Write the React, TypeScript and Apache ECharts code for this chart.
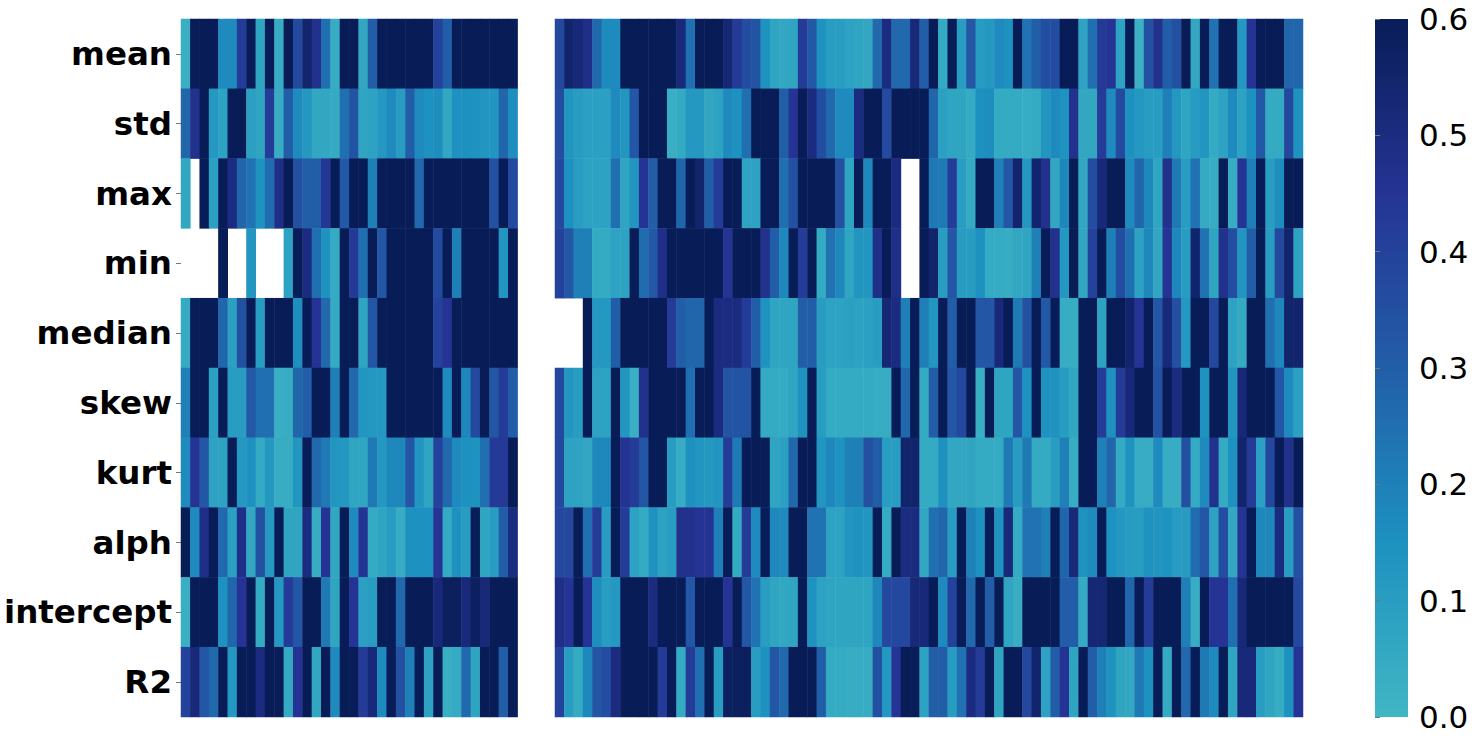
import React, { useEffect, useRef } from "react";
import * as echarts from "echarts";

const rowNames = ["mean", "std", "max", "min", "median", "skew", "kurt", "alph", "intercept", "R2"];
const colorStops = ["#41b6c4", "#1d91c0", "#225ea8", "#253494", "#081d58"];
const barTicks = [0, 0.1, 0.2, 0.3, 0.4, 0.5, 0.6];
const gapColumns = [null, null, null, null];
const _ = null;

const meanL = [.03,.6,.6,.6,.17,.17,.42,.6,.07,.6, .04,.6,.37,.55,.47,.25,.04,.6,.6,.06, .3,.6,.6,.6,.6,.6,.6,.4,.3,.6, .6,.6,.6,.6,.6,.6];
const meanR = [.38,.55,.52,.48,.27,.17,.17,.6,.6,.6, .6,.6,.6,.52,.25,.6,.6,.6,.53,.43, .36,.34,.14,.07,.06,.07,.42,.32,.14,.1, .1,.08,.07,.06,.27,.5,.27,.27,.52,.3, .6,.05,.6,.1,.33,.11,.12,.17,.15,.6, .24,.3,.36,.36,.6,.6,.08,.25,.43,.45, .08,.6,.02,.35,.47,.3,.35,.6,.06,.6, .24,.6,.6,.12,.45,.6,.6,.6,.28,.28];
const stdL = [.28,.47,.6,.12,.08,.6,.6,.09,.07,.42, .04,.3,.17,.12,.06,.06,.05,.25,.34,.07, .08,.12,.17,.1,.3,.17,.15,.16,.06,.15, .15,.14,.13,.13,.28,.16];
const stdR = [.36,.13,.1,.09,.09,.09,.17,.13,.33,.6, .6,.6,.03,.05,.12,.12,.06,.08,.17,.15, .25,.6,.6,.6,.3,.45,.6,.5,.36,.27, .17,.17,.5,.6,.6,.37,.6,.6,.6,.6, .28,.09,.07,.07,.05,.15,.16,.05,.05,.05, .04,.05,.13,.17,.14,.47,.06,.06,.42,.17, .37,.15,.12,.1,.1,.2,.12,.07,.11,.13, .05,.08,.17,.08,.15,.32,.05,.05,.38,.14];
const maxL = [.06,_,.6,.09,.6,.5,.28,.24,.14,.26, .48,.6,.35,.3,.3,.44,.6,.32,.6,.6, .2,.6,.6,.6,.6,.27,.6,.6,.6,.6, .6,.6,.6,.35,.6,.37];
const maxR = [.38,.15,.1,.08,.08,.08,.25,.07,.13,.45, .3,.6,.6,.28,.6,.55,.3,.42,.6,.6, .08,.08,.6,.6,.25,.35,.6,.6,.6,.6, .35,.07,.6,.18,.6,.6,.5,_,_,.6, .22,.22,.42,.1,.05,.6,.6,.2,.33,.55, .12,.55,.47,.06,.18,.6,.06,.36,.52,.6, .6,.17,.28,.18,.07,.47,.22,.1,.24,.05, .04,.6,.04,.45,.2,.6,.1,.16,.6,.6];
const minL = [_,_,_,_,.6,_,_,.13,_,_, _,.08,.6,.5,.25,.14,.05,.6,.43,.25, .6,.33,.6,.6,.6,.6,.6,.37,.6,.2, .6,.6,.6,.6,.13,.6];
const minR = [.4,.33,.2,.2,.05,.05,.08,.08,.6,.26, .32,.48,.6,.6,.6,.6,.6,.6,.45,.6, .6,.6,.47,.3,.18,.6,.42,.6,.05,.24, .18,.07,.13,.13,.48,.6,.48,_,_,.6, .55,.1,.33,.1,.1,.15,.05,.05,.04,.06, .07,.2,.6,.47,.12,.6,.06,.4,.6,.2, .36,.25,.08,.18,.06,.45,.18,.1,.55,.24, .07,.47,.36,.13,.3,.6,.1,.38,.55,.08];
const medianL = [.05,.6,.6,.6,.28,.09,.35,.6,.1,.6, .6,.6,.16,.6,.45,.27,.05,.6,.6,.07, .33,.6,.6,.6,.6,.6,.6,.4,.45,.6, .6,.6,.6,.6,.6,.6];
const medianR = [_,_,_,.6,.12,.12,.3,.6,.6,.6, .6,.6,.42,.3,.28,.28,.6,.5,.5,.5, .42,.3,.14,.07,.07,.07,.3,.3,.1,.08, .08,.09,.08,.09,.1,.53,.5,.2,.6,.2, .13,.6,.3,.6,.6,.33,.33,.52,.6,.22, .35,.6,.32,.6,.04,.04,.6,.6,.08,.6, .6,.55,.45,.6,.33,.52,.35,.12,.6,.6, .38,.6,.08,.05,.6,.6,.25,.18,.55,.55];
const skewL = [.2,.6,.6,.09,.6,.1,.1,.32,.25,.25, .03,.04,.28,.3,.6,.6,.2,.6,.27,.13, .12,.12,.6,.6,.6,.6,.6,.6,.17,.6, .18,.38,.6,.33,.42,.3];
const skewR = [.38,.13,.1,.6,.08,.08,.6,.13,.03,.47, .6,.6,.6,.6,.25,.6,.6,.5,.34,.34, .34,.6,.05,.05,.05,.07,.14,.6,.1,.05, .05,.05,.05,.05,.04,.04,.6,.27,.6,.05, .3,.6,.33,.38,.6,.03,.6,.07,.07,.33, .15,.6,.14,.14,.1,.06,.6,.6,.42,.15, .42,.52,.6,.6,.35,.6,.5,.6,.6,.14, .6,.6,.13,.52,.6,.6,.6,.33,.17,.09];
const kurtL = [.17,.45,.33,.08,.08,.6,.12,.15,.05,.12, .04,.04,.13,.6,.27,.22,.13,.12,.07,.07, .22,.12,.18,.18,.33,.13,.07,.4,.27,.17, .15,.14,.25,.43,.43,.6];
const kurtR = [.38,.08,.08,.06,.18,.18,.6,.45,.42,.33, .6,.6,.1,.04,.15,.13,.12,.13,.42,.22, .6,.6,.6,.07,.09,.27,.6,.6,.13,.18, .14,.2,.2,.35,.3,.1,.1,.55,.55,.05, .05,.15,.06,.06,.07,.05,.05,.05,.22,.1, .22,.05,.05,.1,.2,.04,.6,.6,.2,.28, .05,.14,.04,.04,.17,.04,.04,.35,.05,.17, .47,.05,.15,.55,.42,.09,.38,.6,.47,.6];
const alphL = [.6,.17,.48,.6,.27,.09,.48,.06,.35,.12, .6,.07,.07,.5,.04,.45,.06,.6,.17,.45, .05,.07,.1,.04,.15,.15,.15,.45,.05,.15, .1,.6,.07,.1,.3,.5];
const alphR = [.38,.38,.6,.25,.42,.1,.6,.42,.08,.05, .14,.08,.1,.47,.47,.45,.45,.2,.6,.05, .42,.17,.6,.18,.17,.6,.6,.24,.24,.08, .08,.13,.14,.13,.6,.05,.6,.5,.5,.06, .25,.28,.1,.6,.2,.15,.6,.14,.52,.05, .24,.24,.2,.6,.28,.52,.14,.17,.6,.15, .12,.1,.1,.14,.13,.14,.11,.11,.26,.33, .08,.36,.06,.45,.6,.18,.18,.5,.1,.35];
const interceptL = [.03,.6,.6,.6,.15,.28,.45,.6,.05,.6, .12,.43,.33,.6,.6,.22,.07,.6,.45,.09, .1,.6,.6,.27,.6,.6,.6,.52,.58,.58, .52,.58,.52,.6,.6,.6];
const interceptR = [.48,.45,.6,.45,.16,.1,.12,.6,.6,.6, .5,.6,.6,.6,.33,.6,.6,.6,.45,.6, .33,.24,.1,.07,.06,.07,.6,.14,.08,.07, .07,.07,.07,.07,.18,.38,.38,.38,.52,.52, .6,.17,.4,.6,.27,.6,.3,.6,.07,.04, .6,.6,.6,.6,.3,.3,.05,.53,.53,.6, .6,.28,.6,.42,.6,.6,.6,.2,.04,.6, .45,.45,.25,.52,.6,.6,.6,.6,.6,.38];
const r2L = [.4,.52,.33,.27,.6,.12,.6,.6,.5,.6, .6,.05,.45,.6,.06,.6,.17,.6,.6,.42, .52,.17,.6,.35,.2,.6,.08,.6,.03,.05, .27,.07,.6,.6,.3,.6];
const r2R = [.4,.1,.05,.18,.33,.36,.5,.6,.6,.6, .6,.42,.6,.05,.42,.25,.6,.1,.58,.58, .58,.1,.15,.33,.27,.6,.6,.6,.3,.05, .05,.04,.04,.04,.35,.12,.45,.6,.6,.08, .3,.3,.1,.24,.5,.42,.6,.07,.6,.6, .38,.55,.08,.3,.45,.07,.6,.3,.2,.14, .07,.06,.22,.15,.6,.05,.6,.27,.6,.22, .17,.6,.07,.52,.52,.1,.07,.04,.15,.45];

const leftPanels = [meanL, stdL, maxL, minL, medianL, skewL, kurtL, alphL, interceptL, r2L];
const rightPanels = [meanR, stdR, maxR, minR, medianR, skewR, kurtR, alphR, interceptR, r2R];

const columnCount = leftPanels[0].length + gapColumns.length + rightPanels[0].length;
const columns = Array.from({ length: columnCount }, (_v, i) => String(i));

const cells: [number, number, number][] = [];
rowNames.forEach((_n, y) => {
  const row = [...leftPanels[y], ...gapColumns, ...rightPanels[y]];
  row.forEach((v, x) => {
    if (v !== null) cells.push([x, y, v as number]);
  });
});

const FONT = "DejaVu Sans";

export default function App() {
  const ref = useRef<HTMLDivElement>(null);
  useEffect(() => {
    const chart = echarts.init(ref.current!, null, { renderer: "svg" });
    const last = colorStops.length - 1;
    // The colour-bar axis runs a little past 0 and 0.6 so that its end labels stay centred on their ticks.
    const pad = 0.01;
    const pxPerUnit = 698 / 0.6;
    chart.setOption({
      animation: false,
      backgroundColor: "#ffffff",
      grid: [
        { left: 181, top: 19, width: 1122, height: 698 },
        { left: 1375, top: 19 - pad * pxPerUnit, width: 33, height: 698 + 2 * pad * pxPerUnit },
      ],
      xAxis: [
        { type: "category", data: columns, gridIndex: 0, axisLine: { show: false }, axisTick: { show: false }, axisLabel: { show: false }, splitLine: { show: false } },
        { type: "value", gridIndex: 1, show: false },
      ],
      yAxis: [
        {
          type: "category",
          data: rowNames,
          gridIndex: 0,
          inverse: true,
          axisLine: { show: false },
          axisTick: { show: true, alignWithLabel: true, length: 5, lineStyle: { color: "#777777", width: 1 } },
          axisLabel: { show: true, interval: 0, margin: 9, padding: [7, 0, 0, 0], fontFamily: FONT, fontWeight: "bold", fontSize: 32.5, color: "#000000" },
          splitLine: { show: false },
        },
        {
          type: "value",
          gridIndex: 1,
          position: "right",
          min: -pad,
          max: 0.6 + pad,
          axisLine: { show: false },
          axisTick: { show: true, length: 5, lineStyle: { color: "#777777", width: 1 }, customValues: barTicks },
          axisLabel: {
            show: true,
            margin: 11,
            padding: [2, 0, 0, 0],
            fontFamily: FONT,
            fontSize: 31,
            color: "#000000",
            formatter: (v: number) => v.toFixed(1),
            customValues: barTicks,
          },
          splitLine: { show: false },
        },
      ],
      visualMap: {
        type: "continuous",
        show: false,
        min: 0,
        max: 0.6,
        seriesIndex: 0,
        inRange: { color: colorStops },
      },
      graphic: [
        {
          type: "rect",
          x: 1375,
          y: 19,
          shape: { width: 33, height: 698 },
          style: {
            fill: new echarts.graphic.LinearGradient(
              0, 1, 0, 0,
              colorStops.map((color, i) => ({ offset: i / last, color }))
            ),
          },
        },
      ],
      series: [
        {
          type: "heatmap",
          xAxisIndex: 0,
          yAxisIndex: 0,
          data: cells,
          progressive: 0,
          emphasis: { disabled: true },
          itemStyle: { borderWidth: 0, opacity: 1 },
        },
      ],
    });
    return () => chart.dispose();
  }, []);
  return <div ref={ref} style={{ position: "fixed", left: 0, top: 0, width: 1477, height: 739, background: "#fff" }} />;
}
